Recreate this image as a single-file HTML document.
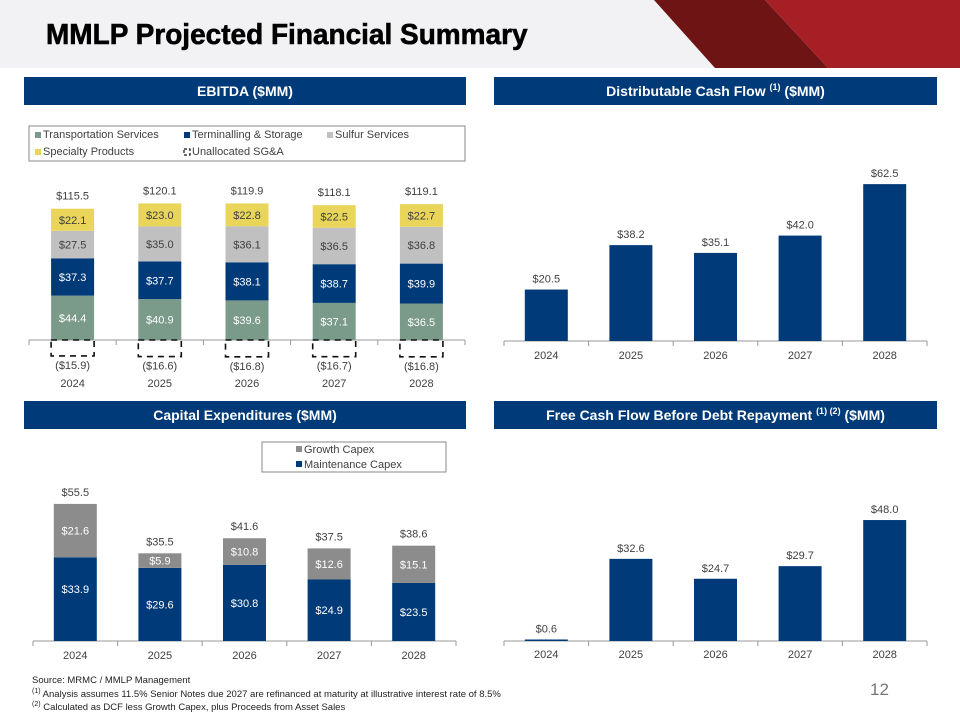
<!DOCTYPE html>
<html><head><meta charset="utf-8"><style>
*{margin:0;padding:0;box-sizing:border-box}
body{width:960px;height:720px;background:#fff;position:relative;overflow:hidden;font-family:"Liberation Sans",sans-serif}
.hdr{position:absolute;left:0;top:0;width:960px;height:68px;background:#f2f2f4}
.title{position:absolute;left:46px;top:19px;font-size:29px;font-weight:bold;color:#000;letter-spacing:0px;transform:scaleX(0.965);transform-origin:left;-webkit-text-stroke:0.6px #000}
.bar{position:absolute;background:#003a78;color:#fff;font-weight:bold;font-size:14px;text-align:center;line-height:28px;height:28px}
.bar sup{font-size:9px;vertical-align:6px;line-height:0}
svg{position:absolute;left:0;top:0}
.foot{position:absolute;left:32px;font-size:9.5px;color:#222}
.foot sup{font-size:7px;line-height:0}
</style></head><body>
<div class="hdr"></div>
<svg width="960" height="720">
<polygon points="654,0 765,0 828,68 715,68" fill="#6e1414"/>
<polygon points="765,0 960,0 960,68 828,68" fill="#a51f24"/>
</svg>
<div class="title">MMLP Projected Financial Summary</div>
<div class="bar" style="left:24px;top:77px;width:442px">EBITDA ($MM)</div>
<div class="bar" style="left:494px;top:77px;width:443px">Distributable Cash Flow <sup>(1)</sup> ($MM)</div>
<div class="bar" style="left:24px;top:401px;width:442px">Capital Expenditures ($MM)</div>
<div class="bar" style="left:494px;top:401px;width:443px">Free Cash Flow Before Debt Repayment <sup>(1) (2)</sup> ($MM)</div>
<svg id="c" width="960" height="720"></svg>
<div class="foot" style="top:675px">Source: MRMC / MMLP Management</div>
<div class="foot" style="top:689px"><sup>(1)</sup> Analysis assumes 11.5% Senior Notes due 2027 are refinanced at maturity at illustrative interest rate of 8.5%</div>
<div class="foot" style="top:702px"><sup>(2)</sup> Calculated as DCF less Growth Capex, plus Proceeds from Asset Sales</div>
<div style="position:absolute;left:870px;top:680px;font-size:17px;color:#777">12</div>
<script>
const years=["2024","2025","2026","2027","2028"];
const transport=[44.4,40.9,39.6,37.1,36.5];
const terminal=[37.3,37.7,38.1,38.7,39.9];
const sulfur=[27.5,35.0,36.1,36.5,36.8];
const specialty=[22.1,23.0,22.8,22.5,22.7];
const sga=[15.9,16.6,16.8,16.7,16.8];
const ebitdaTotal=[115.5,120.1,119.9,118.1,119.1];
const dcf=[20.5,38.2,35.1,42.0,62.5];
const maint=[33.9,29.6,30.8,24.9,23.5];
const growth=[21.6,5.9,10.8,12.6,15.1];
const capexTotal=[55.5,35.5,41.6,37.5,38.6];
const fcf=[0.6,32.6,24.7,29.7,48.0];

const S=document.getElementById('c');const NS='http://www.w3.org/2000/svg';
function el(t,a,txt){const e=document.createElementNS(NS,t);for(const k in a)e.setAttribute(k,a[k]);if(txt!==undefined)e.textContent=txt;S.appendChild(e);return e;}
function txt(x,y,s,fill,size){const e=el('text',{x:x,y:y,'text-anchor':'middle','font-size':size||11,fill:fill||'#404040','font-family':'Liberation Sans, sans-serif'},s);return e;}
function fmt(v){return '$'+v.toFixed(1);}
function axis(x0,x1,y,n,name){
  const a=el('line',{x1:x0,y1:y,x2:x1,y2:y,stroke:'#999','stroke-width':1});
  
  const step=(x1-x0)/n;
  for(let i=0;i<=n;i++){el('line',{x1:x0+i*step,y1:y,x2:x0+i*step,y2:y+5,stroke:'#999'});}
  return step;
}
function rect(x,y,w,h,fill,name){const r=el('rect',{x:x,y:y,width:w,height:h,fill:fill});return r;}

// EBITDA
(function(){
  const x0=29,x1=465,base=340,k=1.0,bw=43;
  const step=axis(x0,x1,base,5,'ebitda-x-axis');
  const segs=[[transport,'#7a9a8a','#fff','transportation'],[terminal,'#003a78','#fff','terminalling'],[sulfur,'#c0c0c0','#404040','sulfur'],[specialty,'#e8d55a','#404040','specialty']];
  years.forEach((yr,i)=>{
    const cx=x0+step*(i+0.5);let y=base;
    segs.forEach(s=>{const h=s[0][i]*k;y-=h;rect(cx-bw/2,y,bw,h,s[1],'bar-'+s[3]+'-'+yr);txt(cx,y+h/2+4,fmt(s[0][i]),s[2],11);});
    txt(cx,y-9,fmt(ebitdaTotal[i]),'#404040',11);
    const d=el('rect',{x:cx-bw/2,y:base,width:bw,height:sga[i]*k,fill:'none',stroke:'#111','stroke-width':1.6,'stroke-dasharray':'6,5'});
    
    txt(cx,base+sga[i]*k+13,'($'+sga[i].toFixed(1)+')','#404040',11);
    txt(cx,387,yr,'#404040',11);
  });
  const lg=el('rect',{x:29,y:126,width:436,height:35,fill:'#fff',stroke:'#888'});
  
  const items=[[35,138,'#7a9a8a','Transportation Services'],[184,138,'#003a78','Terminalling & Storage'],[327,138,'#c0c0c0','Sulfur Services'],[35,155,'#e8d55a','Specialty Products']];
  items.forEach(it=>{rect(it[0],it[1]-6,6,6,it[2],'legend-swatch');const t=el('text',{x:it[0]+8,y:it[1],'font-size':11,fill:'#404040'},it[3]);});
  el('rect',{x:184,y:149,width:6,height:6,fill:'none',stroke:'#111','stroke-width':1.2,'stroke-dasharray':'3,2'});
  const t=el('text',{x:192,y:155,'font-size':11,fill:'#404040'},'Unallocated SG&A');
})();

function simple(vals,base,k,name,yl){
  const x0=504,x1=927,bw=43;const step=axis(x0,x1,base,5,name+'-x-axis');
  years.forEach((yr,i)=>{const cx=x0+step*(i+0.5);const h=vals[i]*k;
    rect(cx-bw/2,base-h,bw,h,'#003a78','bar-'+name+'-'+yr);
    txt(cx,base-h-7,fmt(vals[i]),'#404040',11);txt(cx,base+yl,yr,'#404040',11);});
}
simple(dcf,341,2.51,'dcf',18);
simple(fcf,641,2.52,'fcf',17);

// Capex
(function(){
  const x0=33,x1=456,base=641,k=2.47,bw=43;
  const step=axis(x0,x1,base,5,'capex-x-axis');
  years.forEach((yr,i)=>{const cx=x0+step*(i+0.5);
    const hm=maint[i]*k,hg=growth[i]*k;
    rect(cx-bw/2,base-hm,bw,hm,'#003a78','bar-maintenance-'+yr);
    rect(cx-bw/2,base-hm-hg,bw,hg,'#8c8c8c','bar-growth-'+yr);
    txt(cx,base-hm/2+4+(i==0?-10:0),fmt(maint[i]),'#fff',11);
    txt(cx,base-hm-hg/2+4,fmt(growth[i]),'#fff',11);
    txt(cx,base-hm-hg-8,fmt(capexTotal[i]),'#404040',11);
    txt(cx,base+18,yr,'#404040',11);});
  const lg=el('rect',{x:262,y:442,width:184,height:30,fill:'#fff',stroke:'#888'});
  
  rect(296,446,6,6,'#8c8c8c','legend-swatch');rect(296,461,6,6,'#003a78','legend-swatch');
  let t=el('text',{x:304,y:453,'font-size':11,fill:'#404040'},'Growth Capex');
  t=el('text',{x:304,y:468,'font-size':11,fill:'#404040'},'Maintenance Capex');
})();
</script>
</body></html>
